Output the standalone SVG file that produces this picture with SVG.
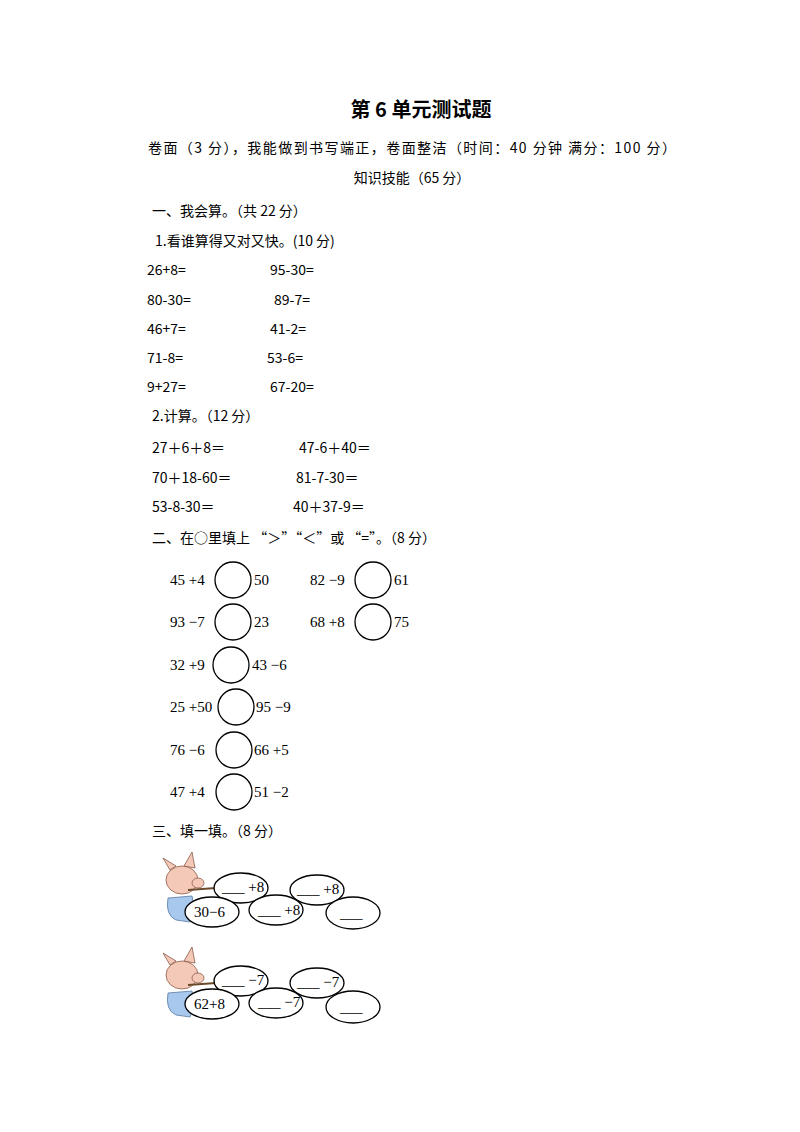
<svg xmlns="http://www.w3.org/2000/svg" width="800" height="1132" viewBox="0 0 800 1132">
<style>
.t{font-family:"Noto Sans CJK SC","Liberation Sans",sans-serif;font-size:14px;fill:#000}
.h{font-family:"Noto Sans CJK SC",sans-serif;font-size:20px;font-weight:bold}
.m{font-family:"Liberation Serif",serif;font-size:15px;fill:#000}
.c{fill:none;stroke:#000;stroke-width:1.3}
.pig{fill:#f5c9b8;stroke:#8a5a4a;stroke-width:0.8}
.ov{fill:#a9c8ee;stroke:#5a7aa0;stroke-width:0.8}
</style>
<rect width="800" height="1132" fill="#fff"/>
<text class="h" x="421" y="117" text-anchor="middle">第 6 单元测试题</text>
<text class="t" x="148" y="153" textLength="528" lengthAdjust="spacing">卷面（3 分），我能做到书写端正，卷面整洁（时间：40 分钟  满分：100 分）</text>
<text class="t" x="412" y="183" text-anchor="middle">知识技能（65 分）</text>
<text class="t" x="152" y="216">一、我会算。（共 22 分）</text>
<text class="t" x="155" y="246">1.看谁算得又对又快。(10 分)</text>
<g class="t">
<text x="147" y="275">26+8=</text><text x="270" y="275">95-30=</text>
<text x="147" y="305">80-30=</text><text x="274" y="305">89-7=</text>
<text x="147" y="334">46+7=</text><text x="270" y="334">41-2=</text>
<text x="147" y="363">71-8=</text><text x="267" y="363">53-6=</text>
<text x="147" y="392">9+27=</text><text x="270" y="392">67-20=</text>
</g>
<text class="t" x="152" y="421">2.计算。（12 分）</text>
<g class="t">
<text x="152" y="453">27＋6＋8＝</text><text x="299" y="453">47-6＋40＝</text>
<text x="152" y="483">70＋18-60＝</text><text x="296" y="483">81-7-30＝</text>
<text x="152" y="512">53-8-30＝</text><text x="293" y="512">40＋37-9＝</text>
</g>
<text class="t" x="152" y="543">二、在○里填上 “＞”“＜”或 “=”。（8 分）</text>
<g class="m">
<text x="170" y="585">45 +4</text><text x="254" y="585">50</text>
<text x="310" y="585">82 −9</text><text x="394" y="585">61</text>
<text x="170" y="627">93 −7</text><text x="254" y="627">23</text>
<text x="310" y="627">68 +8</text><text x="394" y="627">75</text>
<text x="170" y="670">32 +9</text><text x="252" y="670">43 −6</text>
<text x="170" y="712">25 +50</text><text x="256" y="712">95 −9</text>
<text x="170" y="755">76 −6</text><text x="254" y="755">66 +5</text>
<text x="170" y="797">47 +4</text><text x="254" y="797">51 −2</text>
</g>
<g class="c">
<circle cx="233" cy="580" r="18"/><circle cx="373" cy="580" r="18"/>
<circle cx="233" cy="622" r="18"/><circle cx="373" cy="622" r="18"/>
<circle cx="231" cy="665" r="18"/>
<circle cx="236" cy="707" r="18"/>
<circle cx="234" cy="750" r="18"/>
<circle cx="234" cy="792" r="18"/>
</g>
<text class="t" x="152" y="836">三、填一填。（8 分）</text>
<g id="pig1">
<path class="ov" d="M168 898 Q165 915 176 920 L190 922 Q196 910 192 896 Z"/>
<ellipse class="pig" cx="182" cy="880" rx="16" ry="14"/>
<path class="pig" d="M170 870 L163 858 L176 866 Z"/>
<path class="pig" d="M184 866 L192 852 L195 868 Z"/>
<ellipse class="pig" cx="198" cy="883" rx="6" ry="5"/>
<line x1="188" y1="890" x2="216" y2="888" stroke="#6a4a2a" stroke-width="2"/>
</g>
<g id="pig2">
<path class="ov" d="M168 993 Q165 1010 176 1015 L190 1017 Q196 1005 192 991 Z"/>
<ellipse class="pig" cx="182" cy="975" rx="16" ry="14"/>
<path class="pig" d="M170 965 L163 953 L176 961 Z"/>
<path class="pig" d="M184 961 L192 947 L195 963 Z"/>
<ellipse class="pig" cx="198" cy="978" rx="6" ry="5"/>
<line x1="188" y1="985" x2="216" y2="983" stroke="#6a4a2a" stroke-width="2"/>
</g>
<g class="c">
<ellipse cx="241" cy="888" rx="27" ry="15" fill="#fff"/>
<ellipse cx="317" cy="890" rx="27" ry="15" fill="#fff"/>
<ellipse cx="212" cy="912" rx="27" ry="15" fill="#fff"/>
<ellipse cx="276" cy="910" rx="27" ry="15" fill="#fff"/>
<ellipse cx="353" cy="913" rx="27" ry="16" fill="#fff"/>
<ellipse cx="241" cy="981" rx="27" ry="15" fill="#fff"/>
<ellipse cx="317" cy="983" rx="27" ry="15" fill="#fff"/>
<ellipse cx="212" cy="1004" rx="27" ry="15" fill="#fff"/>
<ellipse cx="276" cy="1003" rx="27" ry="15" fill="#fff"/>
<ellipse cx="353" cy="1007" rx="27" ry="16" fill="#fff"/>
</g>
<g class="m">
<text x="222" y="892">___ +8</text>
<text x="297" y="894">___ +8</text>
<text x="194" y="917">30−6</text>
<text x="258" y="915">___ +8</text>
<text x="340" y="918">___</text>
<text x="222" y="985">___ −7</text>
<text x="297" y="987">___ −7</text>
<text x="194" y="1009">62+8</text>
<text x="258" y="1007">___ −7</text>
<text x="340" y="1012">___</text>
</g>
</svg>
